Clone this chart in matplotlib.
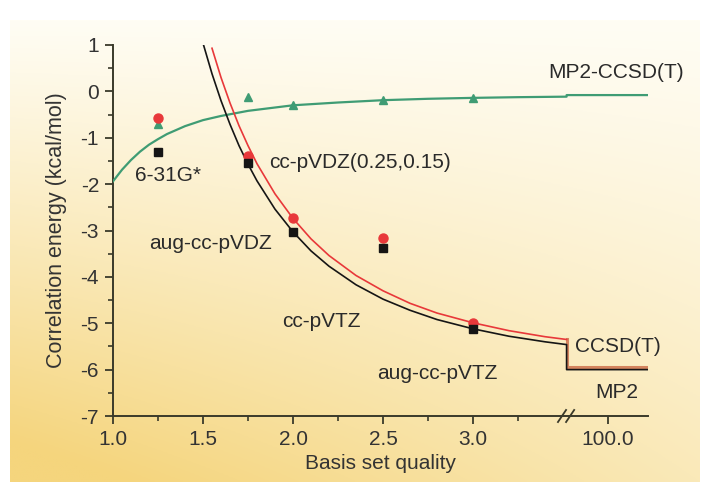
import numpy as np
import matplotlib
matplotlib.use("Agg")
import matplotlib.pyplot as plt

plt.rcParams['font.family'] = ['Liberation Sans', 'DejaVu Sans']

# ---------------- data ----------------
# basis-set points (x = basis set quality)
pt_x = [1.25, 1.75, 2.0, 2.5, 3.0]
mp2_pts = [-1.30, -1.55, -3.03, -3.37, -5.12]      # black squares
ccsdt_pts = [-0.57, -1.40, -2.74, -3.16, -4.99]    # red circles
diff_pts = [-0.71, -0.12, -0.30, -0.19, -0.14]     # green triangles

# extrapolation curves, values
mp2_cx = [1.50, 1.55, 1.60, 1.65, 1.70, 1.75, 1.80, 1.90, 2.00, 2.10, 2.20,
          2.35, 2.50, 2.65, 2.80, 3.00, 3.20, 3.40, 3.52]
mp2_cy = [1.04, 0.38, -0.20, -0.71, -1.17, -1.57, -1.93, -2.54, -3.03, -3.44,
          -3.77, -4.17, -4.48, -4.72, -4.92, -5.12, -5.28, -5.40, -5.46]
cc_cx = [1.55, 1.60, 1.65, 1.70, 1.75, 1.80, 1.90, 2.00, 2.10, 2.20, 2.35,
         2.50, 2.65, 2.80, 3.00, 3.20, 3.40, 3.52]
cc_cy = [0.93, 0.30, -0.25, -0.74, -1.17, -1.56, -2.21, -2.74, -3.18, -3.54,
         -3.97, -4.30, -4.57, -4.78, -4.99, -5.16, -5.29, -5.35]
diff_cx = [1.00, 1.05, 1.10, 1.15, 1.20, 1.25, 1.30, 1.40, 1.50, 1.60, 1.75,
           2.00, 2.25, 2.50, 2.75, 3.00, 3.25, 3.52]
diff_cy = [-1.94, -1.69, -1.48, -1.30, -1.15, -1.03, -0.92, -0.75, -0.62,
           -0.53, -0.42, -0.30, -0.24, -0.19, -0.16, -0.14, -0.125, -0.114]

# complete-basis-set limits (plotted at the "100.0" end of the axis)
break_x = 3.52
end_x = 3.97
mp2_cbs = -6.00
ccsdt_cbs = -5.94
diff_cbs = -0.08

xtick_pos = [1.0, 1.5, 2.0, 2.5, 3.0, 3.75]
xtick_labels = ["1.0", "1.5", "2.0", "2.5", "3.0", "100.0"]
ytick_pos = [-7, -6, -5, -4, -3, -2, -1, 0, 1]
ytick_labels = ["-7", "-6", "-5", "-4", "-3", "-2", "-1", "0", "1"]

labels = [
    ("MP2-CCSD(T)", 3.42, 0.40),
    ("cc-pVDZ(0.25,0.15)", 1.87, -1.54),
    ("6-31G*", 1.12, -1.82),
    ("aug-cc-pVDZ", 1.20, -3.27),
    ("cc-pVTZ", 1.94, -4.97),
    ("aug-cc-pVTZ", 2.467, -6.09),
    ("CCSD(T)", 3.567, -5.51),
    ("MP2", 3.678, -6.50),
]

# ---------------- figure ----------------
fig = plt.figure(figsize=(7.07, 4.82), dpi=100)

# background gradient panel
bg = fig.add_axes([10/707, 0, 690/707, 462/482])
bg.axis('off')
H, W = 200, 300
yy, xx = np.mgrid[0:H, 0:W]
yf = yy / (H - 1)
xf = xx / (W - 1)
t = np.clip(yf ** 1.1 * (1 - 0.5 * xf) + 0.1 * (1 - xf) * yf, 0, 1)
c0 = np.array([255, 253, 244]) / 255
c1 = np.array([245, 213, 125]) / 255
img = c0[None, None, :] * (1 - t[..., None]) + c1[None, None, :] * t[..., None]
bg.imshow(img, aspect='auto', extent=[0, 1, 0, 1], origin='upper')
bg.set_xlim(0, 1)
bg.set_ylim(0, 1)

ax = fig.add_axes([113/707, 1 - 416/482, (647.6 - 113)/707, (416 - 45)/482])
ax.patch.set_alpha(0)

green = '#3f9c74'
red = '#e8383a'
black = '#151515'
axcol = '#3a3a2a'

# curves
ax.plot(diff_cx + [break_x, break_x, end_x],
        diff_cy + [diff_cy[-1], diff_cbs, diff_cbs], color=green, lw=1.6, zorder=3)
ax.plot(mp2_cx + [break_x, break_x, end_x],
        mp2_cy + [mp2_cy[-1], mp2_cbs, mp2_cbs], color=black, lw=1.2, zorder=3)
ax.plot(cc_cx + [break_x], cc_cy + [cc_cy[-1]], color=red, lw=1.2, zorder=3)
ax.plot([break_x, break_x, end_x], [cc_cy[-1], ccsdt_cbs, ccsdt_cbs],
        color='#d4845e', lw=2.2, zorder=2.9)

# points
ax.plot(pt_x, diff_pts, linestyle='none', marker='^', ms=6, color=green,
        mec=green, zorder=4)
ax.plot(pt_x, ccsdt_pts, linestyle='none', marker='o', ms=6.5, color=red,
        mec=red, zorder=5)
ax.plot(pt_x, mp2_pts, linestyle='none', marker='s', ms=5.5, color=black,
        mec=black, zorder=6)

ax.set_xlim(1.0, end_x)
ax.set_ylim(-7, 1)

for s in ['top', 'right']:
    ax.spines[s].set_visible(False)
for s in ['left', 'bottom']:
    ax.spines[s].set_color(axcol)
    ax.spines[s].set_linewidth(1.4)

ax.set_xticks(xtick_pos)
ax.set_xticklabels(xtick_labels)
ax.set_xticks([1.25, 1.75, 2.25, 2.75, 3.25], minor=True)
ax.set_yticks(ytick_pos)
ax.set_yticklabels(ytick_labels)
ax.set_yticks(np.arange(-6.5, 1.0, 1.0), minor=True)
ax.tick_params(which='major', direction='out', length=6, width=1.3,
               colors=axcol, labelsize=15, labelcolor='#333333', pad=4)
ax.tick_params(which='minor', direction='out', length=3.5, width=1.2,
               colors=axcol)

ax.set_xlabel("Basis set quality", fontsize=15, color='#333333', labelpad=4)
ax.set_ylabel("Correlation energy (kcal/mol)", fontsize=15.5, color='#333333',
              labelpad=10)

# axis break symbol
for x0 in (3.472, 3.517):
    ax.plot([x0, x0 + 0.045], [-7.13, -6.87], color=axcol, lw=1.3,
            clip_on=False, zorder=7)

for txt, x, y in labels:
    ax.text(x, y, txt, fontsize=15, color='#2a2a2a', ha='left', va='center')

fig.savefig("out.png", dpi=100)
